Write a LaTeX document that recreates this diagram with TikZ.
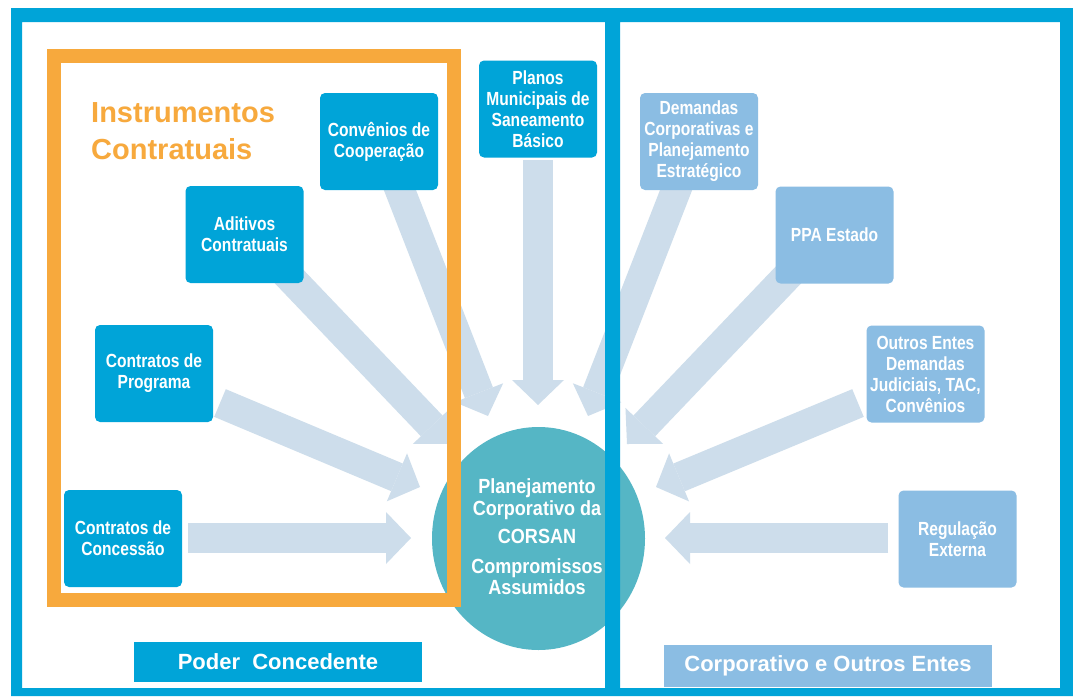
\documentclass[tikz,border=0pt]{standalone}
\usepackage{fontspec}
\setmainfont{Liberation Sans}
\newfontfamily\narrowfont[FakeStretch=0.82]{Liberation Sans}
\newfontfamily\circfont[FakeStretch=0.88]{Liberation Sans}
\usetikzlibrary{arrows.meta,shapes.geometric}
\definecolor{frameblue}{HTML}{00A4D8}
\definecolor{lightbox}{HTML}{8BBDE3}
\definecolor{arrowc}{HTML}{CDDDEB}
\definecolor{circc}{HTML}{55B6C5}
\definecolor{orangec}{HTML}{F7A93D}
\begin{document}
\begin{tikzpicture}[x=1pt,y=-1pt,
  darkbox/.style={fill=frameblue, rounded corners=5pt, minimum width=118pt, minimum height=97pt,
    inner sep=0pt, align=center, text=white, font=\narrowfont\bfseries\fontsize{19}{21}\selectfont},
  lightboxst/.style={darkbox, fill=lightbox},
  blockarrow/.style={draw=arrowc, line width=30pt, line cap=butt,
    -{Triangle[length=25pt,width=52pt,line width=0pt]}},
  label/.style={inner sep=0pt, text=white, font=\bfseries\fontsize{22}{24}\selectfont},
  title/.style={anchor=base west, inner sep=0pt, text=orangec, font=\bfseries\fontsize{29}{37}\selectfont}
]
\useasboundingbox (0,0) rectangle (1073,696);
\fill[white] (0,0) rectangle (1073,696);

% arrow end points
\coordinate (s1) at (188,538);   \coordinate (t1) at (411,538);
\coordinate (s2) at (220,403);   \coordinate (t2) at (420,487);
\coordinate (s3) at (280,267);   \coordinate (t3) at (449,444);
\coordinate (s4) at (396,180);   \coordinate (t4) at (488,416);
\coordinate (s5) at (538,160);   \coordinate (t5) at (538,405);
\coordinate (s6) at (680,180);   \coordinate (t6) at (588,416);
\coordinate (s7) at (796,267);   \coordinate (t7) at (627,444);
\coordinate (s8) at (858,403);   \coordinate (t8) at (656,487);
\coordinate (s9) at (888,538);   \coordinate (t9) at (665,538);

\foreach \i in {1,...,9} { \draw[blockarrow] (s\i) -- (t\i); }

% central circle
\node[ellipse, fill=circc, minimum width=213pt, minimum height=223pt, inner sep=0pt] (core) at (538.5,538.5) {};
\node[text=white, align=center, inner sep=0pt,
  font=\circfont\bfseries\fontsize{20.5}{21.5}\selectfont] (coretext) at (537,537)
  {Planejamento\\Corporativo da\\[7pt]CORSAN\\[8pt]Compromissos\\Assumidos};

% boxes
\node[darkbox] (conv) at (379,141.5) {Convênios de\\Cooperação};
\node[darkbox] (adit) at (244.5,234.5) {Aditivos\\Contratuais};
\node[darkbox] (prog) at (154,373.5) {Contratos de\\Programa};
\node[darkbox] (conc) at (123,538.5) {Contratos de\\Concessão};
\node[darkbox] (plan) at (538,109) {Planos\\Municipais de\\Saneamento\\Básico};
\node[lightboxst] (dem) at (699,141.5) {Demandas\\Corporativas e\\Planejamento\\Estratégico};
\node[lightboxst] (ppa) at (834.5,235) {PPA Estado};
\node[lightboxst] (out) at (925.5,374) {Outros Entes\\Demandas\\Judiciais, TAC,\\Convênios};
\node[lightboxst] (reg) at (957.5,539) {Regulação\\Externa};

% orange frame and title
\draw[orangec, line width=14pt] (53.5,55.5) rectangle (454,600);
\node[title] (instr1) at (91,122) {Instrumentos};
\node[title] (instr2) at (91,159) {Contratuais};

% bottom labels
\node[label, fill=frameblue, minimum width=288pt, minimum height=40pt] (poder) at (278,662) {Poder\ \ Concedente};
\node[label, fill=lightbox, minimum width=328pt, minimum height=42pt] (corp) at (828,666) {Corporativo e Outros Entes};

% outer frame with divider
\fill[frameblue, even odd rule] (11,8) rectangle (1073,696)
  (22,22) rectangle (605,688) (620,22) rectangle (1060,688);
\end{tikzpicture}
\end{document}
